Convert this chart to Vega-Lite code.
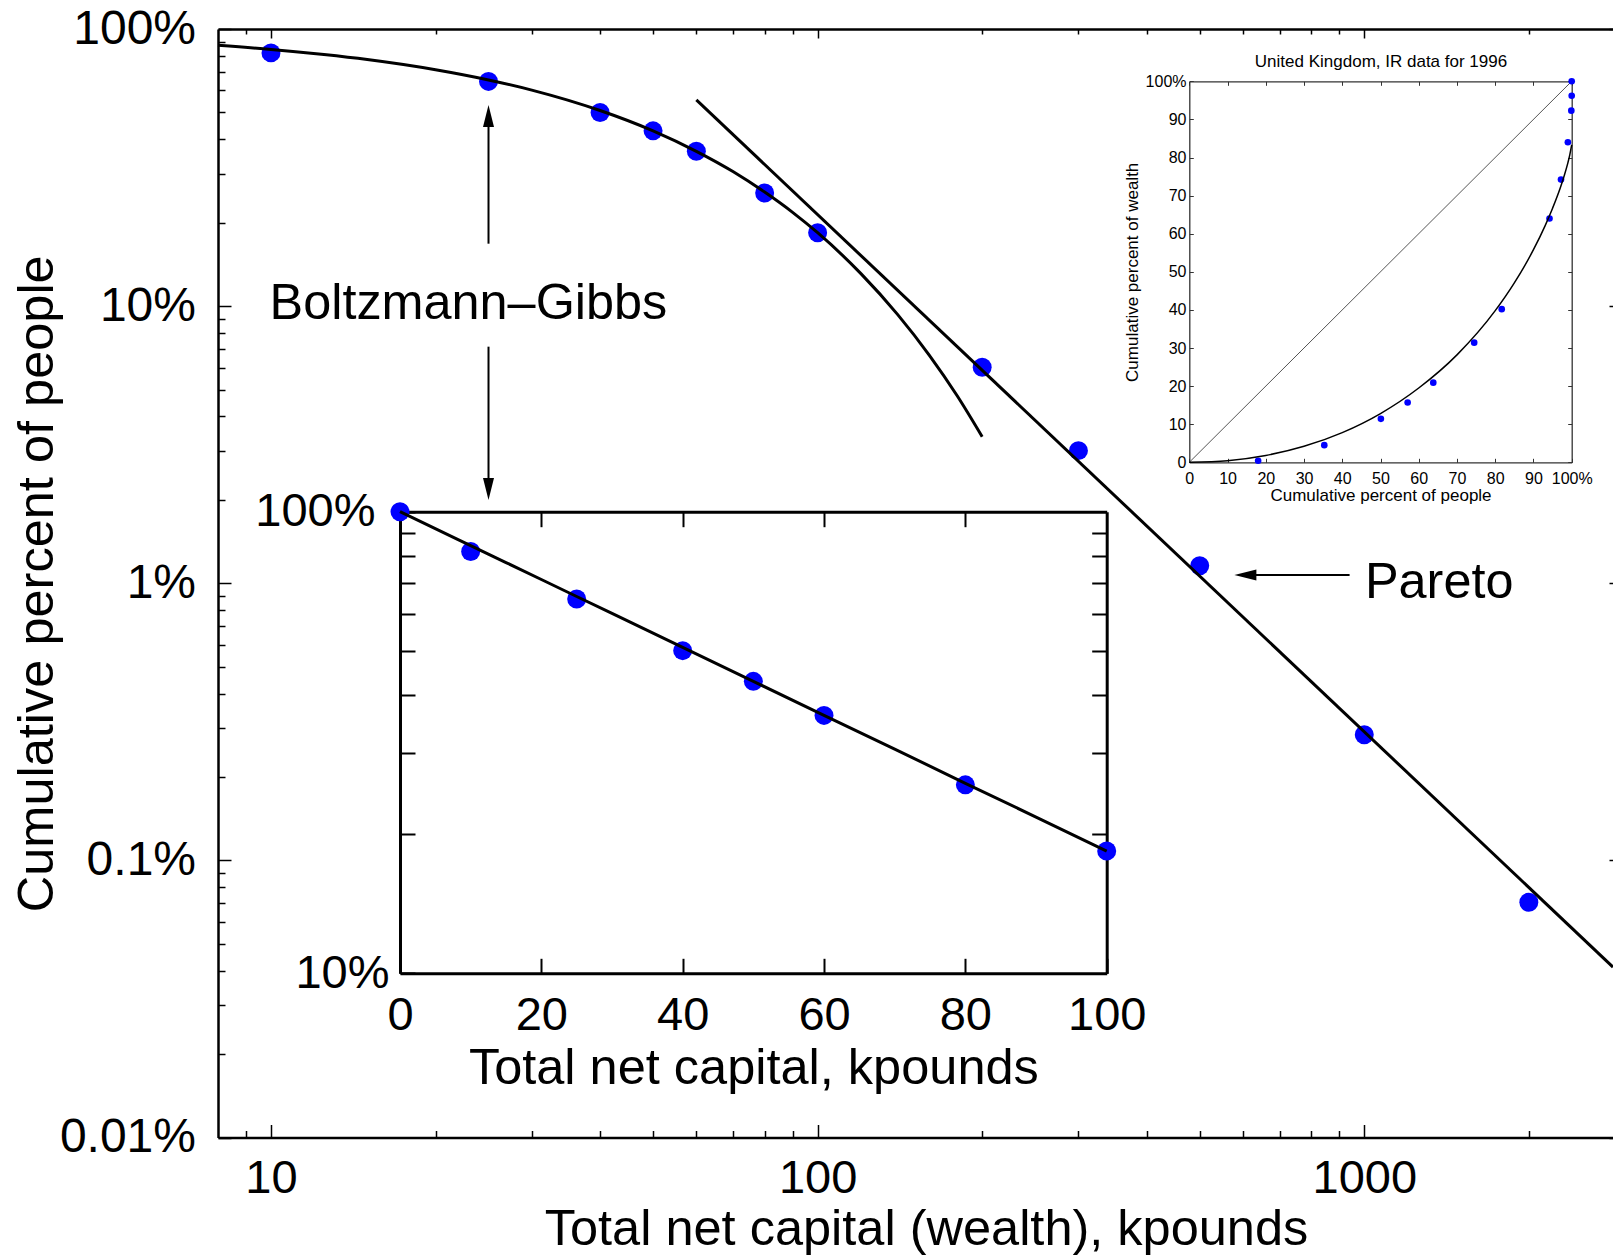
{
  "$schema": "https://vega.github.io/schema/vega-lite/v6.json",
  "width": 1395,
  "height": 1108.5,
  "autosize": {"type": "none"},
  "padding": {"left": 218, "top": 29, "right": 0, "bottom": 118.5},
  "background": "white",
  "config": {
    "font": "Liberation Sans",
    "view": {"stroke": null},
    "axis": {
      "labelFont": "Liberation Sans",
      "titleFont": "Liberation Sans",
      "labelColor": "#000000",
      "titleColor": "#000000",
      "tickColor": "#000000",
      "domainColor": "#000000",
      "titleFontWeight": "normal",
      "labelFlush": false,
      "labelOverlap": false,
      "labelBound": false,
      "grid": false
    }
  },
  "datasets": {
    "uk1996": [
      {"k": 0, "pct": 100},
      {"k": 10, "pct": 82.0},
      {"k": 25, "pct": 64.7},
      {"k": 40, "pct": 50.0},
      {"k": 50, "pct": 42.9},
      {"k": 60, "pct": 36.2},
      {"k": 80, "pct": 25.6},
      {"k": 100, "pct": 18.4},
      {"k": 200, "pct": 6.02},
      {"k": 300, "pct": 3.01},
      {"k": 500, "pct": 1.156},
      {"k": 1000, "pct": 0.284},
      {"k": 2000, "pct": 0.0706}
    ],
    "boltzmann_gibbs": [
      {"k": 0, "pct": 100},
      {"k": 8, "pct": 87.3},
      {"k": 10, "pct": 84.4},
      {"k": 12.5, "pct": 80.9},
      {"k": 15, "pct": 77.6},
      {"k": 20, "pct": 71.3},
      {"k": 25, "pct": 65.5},
      {"k": 30, "pct": 60.2},
      {"k": 40, "pct": 50.8},
      {"k": 50, "pct": 42.9},
      {"k": 60, "pct": 36.2},
      {"k": 70, "pct": 30.6},
      {"k": 80, "pct": 25.8},
      {"k": 90, "pct": 21.8},
      {"k": 100, "pct": 18.4},
      {"k": 120, "pct": 13.1},
      {"k": 140, "pct": 9.34},
      {"k": 160, "pct": 6.66},
      {"k": 180, "pct": 4.75},
      {"k": 200, "pct": 3.38}
    ],
    "pareto_fit": [
      {"k": 60, "pct": 55.5},
      {"k": 2851, "pct": 0.0412}
    ],
    "arrow_shafts": [
      {"k": 25, "k2": 25, "pct": 16.8, "pct2": 48.5},
      {"k": 25, "k2": 25, "pct": 7.14, "pct2": 2.19},
      {"k": 940, "k2": 606, "pct": 1.07, "pct2": 1.07}
    ],
    "arrow_heads": [
      {"k": 25, "pct": 48.5, "dir": "up"},
      {"k": 25, "pct": 2.19, "dir": "down"},
      {"k": 606, "pct": 1.07, "dir": "left"}
    ],
    "notes": [
      {"k": 9.94, "pct": 10.2, "txt": "Boltzmann–Gibbs"},
      {"k": 1003, "pct": 1.0, "txt": "Pareto"}
    ],
    "lorenz_points": [
      {"p": 18.0, "w": 0.4},
      {"p": 35.3, "w": 4.5},
      {"p": 50.1, "w": 11.4},
      {"p": 57.1, "w": 15.7},
      {"p": 63.8, "w": 20.9},
      {"p": 74.5, "w": 31.4},
      {"p": 81.7, "w": 40.2},
      {"p": 94.2, "w": 64.0},
      {"p": 97.2, "w": 74.2},
      {"p": 99.0, "w": 84.0},
      {"p": 99.9, "w": 92.3},
      {"p": 100, "w": 96.2},
      {"p": 100, "w": 100}
    ],
    "lorenz_fit": [
      {"p": 0, "w": 0},
      {"p": 10, "w": 0.43},
      {"p": 20, "w": 1.8},
      {"p": 30, "w": 4.2},
      {"p": 40, "w": 7.8},
      {"p": 50, "w": 12.8},
      {"p": 60, "w": 19.5},
      {"p": 70, "w": 28.2},
      {"p": 80, "w": 39.8},
      {"p": 85, "w": 47.1},
      {"p": 90, "w": 55.8},
      {"p": 93, "w": 62.0},
      {"p": 95, "w": 66.7},
      {"p": 97, "w": 72.0},
      {"p": 98, "w": 75.1},
      {"p": 99, "w": 78.6},
      {"p": 99.5, "w": 80.7},
      {"p": 100, "w": 83.3}
    ],
    "equality": [
      {"p": 0, "w": 0},
      {"p": 100, "w": 100}
    ]
  },
  "layer": [
    {
      "layer": [
        {
          "data": {"name": "uk1996"},
          "transform": [{"filter": "datum.k > 0"}],
          "mark": {"type": "circle", "size": 360, "color": "#0000ff", "opacity": 1},
          "encoding": {
            "x": {
              "field": "k", "type": "quantitative",
              "scale": {"type": "log", "domain": [8, 2851], "nice": false},
              "axis": {
                "orient": "bottom",
                "values": [9, 10, 20, 30, 40, 50, 60, 70, 80, 90, 100, 200, 300, 400, 500, 600, 700, 800, 900, 1000, 2000],
                "labelExpr": "datum.value == 10 || datum.value == 100 || datum.value == 1000 ? '' + datum.value : ''",
                "tickSize": {"condition": {"test": "datum.value == 10 || datum.value == 100 || datum.value == 1000", "value": -13}, "value": -7},
                "tickWidth": 1.5,
                "domainWidth": 2.5,
                "labelFontSize": 47,
                "labelPadding": 31,
                "title": "Total net capital (wealth), kpounds",
                "titleFontSize": 50.5,
                "titleX": 708,
                "titleY": 106.5,
                "titleAlign": "center",
                "titleBaseline": "alphabetic"
              }
            },
            "y": {
              "field": "pct", "type": "quantitative",
              "scale": {"type": "log", "domain": [0.01, 100], "nice": false},
              "axis": {
                "orient": "left",
                "values": [0.01, 0.02, 0.03, 0.04, 0.05, 0.06, 0.07, 0.08, 0.09, 0.1, 0.2, 0.3, 0.4, 0.5, 0.6, 0.7, 0.8, 0.9, 1, 2, 3, 4, 5, 6, 7, 8, 9, 10, 20, 30, 40, 50, 60, 70, 80, 90, 100],
                "labelExpr": "datum.value == 100 ? '100%' : datum.value == 10 ? '10%' : datum.value == 1 ? '1%' : datum.value == 0.1 ? '0.1%' : datum.value == 0.01 ? '0.01%' : ''",
                "tickSize": {"condition": {"test": "datum.value == 100 || datum.value == 10 || datum.value == 1 || datum.value == 0.1 || datum.value == 0.01", "value": -13}, "value": -7},
                "tickWidth": 1.5,
                "domainWidth": 2.5,
                "labelFontSize": 48,
                "labelPadding": 35.5,
                "title": "Cumulative percent of people",
                "titleFontSize": 50.5,
                "titleAngle": -90,
                "titleX": -165.5,
                "titleBaseline": "alphabetic"
              }
            }
          }
        },
        {
          "data": {"name": "boltzmann_gibbs"},
          "transform": [{"filter": "datum.k > 0"}],
          "mark": {"type": "line", "color": "#000000", "strokeWidth": 3, "interpolate": "monotone"},
          "encoding": {
            "x": {
              "field": "k", "type": "quantitative",
              "scale": {"type": "log", "domain": [8, 2851], "nice": false},
              "axis": {
                "orient": "top",
                "values": [9, 10, 20, 30, 40, 50, 60, 70, 80, 90, 100, 200, 300, 400, 500, 600, 700, 800, 900, 1000, 2000],
                "labels": false,
                "tickSize": {"condition": {"test": "datum.value == 10 || datum.value == 100 || datum.value == 1000", "value": -9}, "value": -5},
                "tickWidth": 1.5,
                "domainWidth": 2.5,
                "title": null
              }
            },
            "y": {
              "field": "pct", "type": "quantitative",
              "scale": {"type": "log", "domain": [0.01, 100], "nice": false},
              "axis": {
                "orient": "right",
                "values": [0.01, 0.1, 1, 10, 100],
                "labels": false,
                "domain": false,
                "tickSize": -4,
                "tickWidth": 1.5,
                "title": null
              }
            }
          }
        },
        {
          "data": {"name": "pareto_fit"},
          "mark": {"type": "line", "color": "#000000", "strokeWidth": 3, "clip": true},
          "encoding": {
            "x": {"field": "k", "type": "quantitative", "scale": {"type": "log", "domain": [8, 2851], "nice": false}, "axis": null},
            "y": {"field": "pct", "type": "quantitative", "scale": {"type": "log", "domain": [0.01, 100], "nice": false}, "axis": null}
          }
        },
        {
          "data": {"name": "arrow_shafts"},
          "mark": {"type": "rule", "color": "#000000", "strokeWidth": 2},
          "encoding": {
            "x": {"field": "k", "type": "quantitative", "scale": {"type": "log", "domain": [8, 2851], "nice": false}, "axis": null},
            "x2": {"field": "k2"},
            "y": {"field": "pct", "type": "quantitative", "scale": {"type": "log", "domain": [0.01, 100], "nice": false}, "axis": null},
            "y2": {"field": "pct2"}
          }
        },
        {
          "data": {"name": "arrow_heads"},
          "mark": {"type": "point", "filled": true, "opacity": 1, "color": "#000000", "size": 484, "strokeWidth": 0},
          "encoding": {
            "x": {"field": "k", "type": "quantitative", "scale": {"type": "log", "domain": [8, 2851], "nice": false}, "axis": null},
            "y": {"field": "pct", "type": "quantitative", "scale": {"type": "log", "domain": [0.01, 100], "nice": false}, "axis": null},
            "shape": {
              "field": "dir", "type": "nominal", "legend": null,
              "scale": {"domain": ["up", "down", "left"], "range": ["M0,-1L0.5,1L-0.5,1Z", "M0,1L0.5,-1L-0.5,-1Z", "M-1,0L1,-0.5L1,0.5Z"]}
            }
          }
        },
        {
          "data": {"name": "notes"},
          "mark": {"type": "text", "align": "left", "baseline": "middle", "fontSize": 50.4, "color": "#000000"},
          "encoding": {
            "x": {"field": "k", "type": "quantitative", "scale": {"type": "log", "domain": [8, 2851], "nice": false}, "axis": null},
            "y": {"field": "pct", "type": "quantitative", "scale": {"type": "log", "domain": [0.01, 100], "nice": false}, "axis": null},
            "text": {"field": "txt"}
          }
        }
      ],
      "resolve": {"axis": {"x": "independent", "y": "independent"}}
    },
    {
      "layer": [
        {
          "data": {"name": "uk1996"},
          "transform": [{"filter": "datum.k <= 100"}],
          "mark": {"type": "circle", "size": 360, "color": "#0000ff", "opacity": 1},
          "encoding": {
            "x": {
              "field": "k", "type": "quantitative",
              "scale": {"type": "linear", "domain": [0, 100], "range": [182, 888.7], "nice": false, "zero": false},
              "axis": {
                "orient": "bottom",
                "offset": -164.2,
                "values": [0, 20, 40, 60, 80, 100],
                "tickSize": -15,
                "tickWidth": 2,
                "domainWidth": 3,
                "labelFontSize": 47,
                "labelPadding": 34.5,
                "title": "Total net capital, kpounds",
                "titleFontSize": 50.5,
                "titleY": 110,
                "titleBaseline": "alphabetic"
              }
            },
            "y": {
              "field": "pct", "type": "quantitative",
              "scale": {"type": "log", "domain": [10, 100], "range": [944.3, 482.7], "nice": false},
              "axis": {
                "orient": "left",
                "offset": -182,
                "values": [10, 20, 30, 40, 50, 60, 70, 80, 90, 100],
                "labelExpr": "datum.value == 100 ? '100%' : datum.value == 10 ? '10%' : ''",
                "tickSize": -15,
                "tickWidth": 2,
                "domainWidth": 3,
                "labelFontSize": 47,
                "labelPadding": {"condition": {"test": "datum.value == 10", "value": 26}, "value": 40},
                "title": null
              }
            }
          }
        },
        {
          "data": {"name": "boltzmann_gibbs"},
          "transform": [{"filter": "datum.k <= 100"}],
          "mark": {"type": "line", "color": "#000000", "strokeWidth": 3},
          "encoding": {
            "x": {
              "field": "k", "type": "quantitative",
              "scale": {"type": "linear", "domain": [0, 100], "range": [182, 888.7], "nice": false, "zero": false},
              "axis": {
                "orient": "top",
                "offset": -482.7,
                "values": [20, 40, 60, 80],
                "labels": false,
                "tickSize": -15,
                "tickWidth": 2,
                "domainWidth": 3,
                "title": null
              }
            },
            "y": {
              "field": "pct", "type": "quantitative",
              "scale": {"type": "log", "domain": [10, 100], "range": [944.3, 482.7], "nice": false},
              "axis": {
                "orient": "right",
                "offset": -506.3,
                "values": [20, 30, 40, 50, 60, 70, 80, 90],
                "labels": false,
                "tickSize": -15,
                "tickWidth": 2,
                "domainWidth": 3,
                "title": null
              }
            }
          }
        }
      ],
      "resolve": {"axis": {"x": "independent", "y": "independent"}}
    },
    {
      "layer": [
        {
          "data": {"name": "equality"},
          "mark": {"type": "line", "color": "#555555", "strokeWidth": 1},
          "encoding": {
            "x": {
              "field": "p", "type": "quantitative",
              "scale": {"type": "linear", "domain": [0, 100], "range": [971.3, 1353.7], "nice": false, "zero": false},
              "axis": {
                "orient": "top",
                "offset": -52.3,
                "values": [0, 10, 20, 30, 40, 50, 60, 70, 80, 90, 100],
                "labels": false,
                "tickSize": -4,
                "tickColor": "#333333",
                "domainColor": "#333333",
                "domainWidth": 1.3,
                "title": "United Kingdom, IR data for 1996",
                "titleFontSize": 17,
                "titleY": -19.6,
                "titleBaseline": "middle"
              }
            },
            "y": {
              "field": "w", "type": "quantitative",
              "scale": {"type": "linear", "domain": [0, 100], "range": [433.3, 52.3], "nice": false, "zero": false},
              "axis": {
                "orient": "right",
                "offset": -41.3,
                "values": [0, 10, 20, 30, 40, 50, 60, 70, 80, 90, 100],
                "labels": false,
                "tickSize": -4,
                "tickColor": "#333333",
                "domainColor": "#333333",
                "domainWidth": 1.3,
                "title": null
              }
            }
          }
        },
        {
          "data": {"name": "lorenz_points"},
          "mark": {"type": "circle", "size": 44, "color": "#0000ff", "opacity": 1},
          "encoding": {
            "x": {
              "field": "p", "type": "quantitative",
              "scale": {"type": "linear", "domain": [0, 100], "range": [971.3, 1353.7], "nice": false, "zero": false},
              "axis": {
                "orient": "bottom",
                "offset": -675.2,
                "values": [0, 10, 20, 30, 40, 50, 60, 70, 80, 90, 100],
                "labelExpr": "datum.value == 100 ? '100%' : datum.label",
                "tickSize": -4,
                "tickColor": "#333333",
                "domainColor": "#333333",
                "domainWidth": 1.3,
                "labelFontSize": 16,
                "labelPadding": 12,
                "title": "Cumulative percent of people",
                "titleFontSize": 17,
                "titleY": 37.7,
                "titleBaseline": "alphabetic"
              }
            },
            "y": {
              "field": "w", "type": "quantitative",
              "scale": {"type": "linear", "domain": [0, 100], "range": [433.3, 52.3], "nice": false, "zero": false},
              "axis": {
                "orient": "left",
                "offset": -971.3,
                "values": [0, 10, 20, 30, 40, 50, 60, 70, 80, 90, 100],
                "labelExpr": "datum.value == 100 ? '100%' : datum.label",
                "tickSize": -4,
                "tickColor": "#333333",
                "domainColor": "#333333",
                "domainWidth": 1.3,
                "labelFontSize": 16,
                "labelPadding": 7.3,
                "title": "Cumulative percent of wealth",
                "titleFontSize": 17,
                "titleAngle": -90,
                "titleX": -52,
                "titleBaseline": "alphabetic"
              }
            }
          }
        },
        {
          "data": {"name": "lorenz_fit"},
          "mark": {"type": "line", "color": "#000000", "strokeWidth": 1.5, "interpolate": "monotone"},
          "encoding": {
            "x": {"field": "p", "type": "quantitative", "scale": {"type": "linear", "domain": [0, 100], "range": [971.3, 1353.7], "nice": false, "zero": false}, "axis": null},
            "y": {"field": "w", "type": "quantitative", "scale": {"type": "linear", "domain": [0, 100], "range": [433.3, 52.3], "nice": false, "zero": false}, "axis": null}
          }
        }
      ],
      "resolve": {"axis": {"x": "independent", "y": "independent"}}
    }
  ],
  "resolve": {
    "scale": {"x": "independent", "y": "independent"},
    "axis": {"x": "independent", "y": "independent"}
  }
}
